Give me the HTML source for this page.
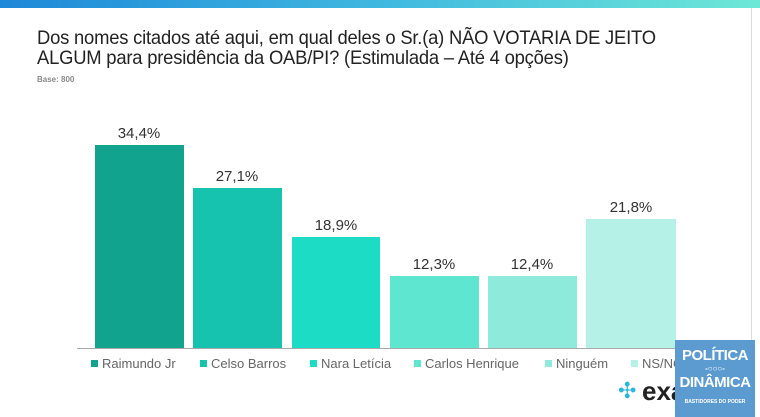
<!DOCTYPE html>
<html><head><meta charset="utf-8"><style>
body{margin:0;width:760px;height:417px;overflow:hidden;background:#fff;font-family:"Liberation Sans",sans-serif;position:relative}
.top{position:absolute;left:0;top:0;width:760px;height:8px;background:linear-gradient(90deg,#1e88d8,#3fb8e0 50%,#6ee8d6)}
.rl{position:absolute;left:751px;top:8px;width:1px;height:409px;background:#ddd}
h1{position:absolute;left:37px;top:27px;margin:0;font-weight:normal;font-size:18.4px;line-height:19px;color:#222;letter-spacing:-0.2px;transform:scaleY(1.05);transform-origin:0 0}
.base{position:absolute;left:37px;top:75px;font-size:8px;color:#888;font-weight:bold}
.bar{position:absolute}
.lab{position:absolute;width:100px;text-align:center;font-size:15px;color:#333}
.axis{position:absolute;left:77px;top:348px;width:615px;height:1px;background:#aaa}
.leg{position:absolute;top:356px;font-size:13px;color:#666;white-space:nowrap}
.leg i{display:inline-block;width:7px;height:7px;margin-right:4px;vertical-align:1px}
.wm{position:absolute;left:675px;top:340px;width:80px;height:77px;background:#5b9bd0;color:#fff;text-align:center;font-weight:bold;overflow:hidden}
</style></head><body>
<div class="top"></div><div class="rl"></div>
<h1>Dos nomes citados até aqui, em qual deles o Sr.(a) NÃO VOTARIA DE JEITO<br>ALGUM para presidência da OAB/PI? (Estimulada – Até 4 opções)</h1>
<div class="base">Base: 800</div>
<div class="bar" style="left:95px;top:145px;width:89px;height:203px;background:#12a38e"></div>
<div class="bar" style="left:193px;top:188px;width:89px;height:160px;background:#16c3ae"></div>
<div class="bar" style="left:292px;top:237px;width:88px;height:111px;background:#1cdcc6"></div>
<div class="bar" style="left:390px;top:276px;width:89px;height:72px;background:#5ee6d0"></div>
<div class="bar" style="left:488px;top:276px;width:89px;height:72px;background:#8eeadb"></div>
<div class="bar" style="left:586px;top:219px;width:90px;height:129px;background:#b6f1e7"></div>
<div class="lab" style="left:89px;top:125px">34,4%</div>
<div class="lab" style="left:187px;top:168px">27,1%</div>
<div class="lab" style="left:286px;top:217px">18,9%</div>
<div class="lab" style="left:384px;top:256px">12,3%</div>
<div class="lab" style="left:482px;top:256px">12,4%</div>
<div class="lab" style="left:581px;top:199px">21,8%</div>
<div class="axis"></div>
<div class="leg" style="left:91px"><i style="background:#12a38e"></i>Raimundo Jr</div>
<div class="leg" style="left:200px"><i style="background:#16c3ae"></i>Celso Barros</div>
<div class="leg" style="left:310px"><i style="background:#1cdcc6"></i>Nara Letícia</div>
<div class="leg" style="left:414px"><i style="background:#5ee6d0"></i>Carlos Henrique</div>
<div class="leg" style="left:545px"><i style="background:#8eeadb"></i>Ninguém</div>
<div class="leg" style="left:631px"><i style="background:#b6f1e7"></i>NS/NC</div>
<div style="position:absolute;left:618px;top:380px;width:22px;height:22px;color:#2bb5d8;font-size:22px;line-height:22px">✣</div>
<div style="position:absolute;left:642px;top:376px;font-size:26px;font-weight:bold;color:#222">exa</div>
<div class="wm"><div style="font-size:15px;margin-top:7px;line-height:17px;letter-spacing:-0.5px">POLÍTICA</div><div style="font-size:8px;line-height:10px">-○○○-</div><div style="font-size:15px;line-height:17px;letter-spacing:-0.5px">DINÂMICA</div><div style="font-size:5px;margin-top:8px">BASTIDORES DO PODER</div></div>
</body></html>
